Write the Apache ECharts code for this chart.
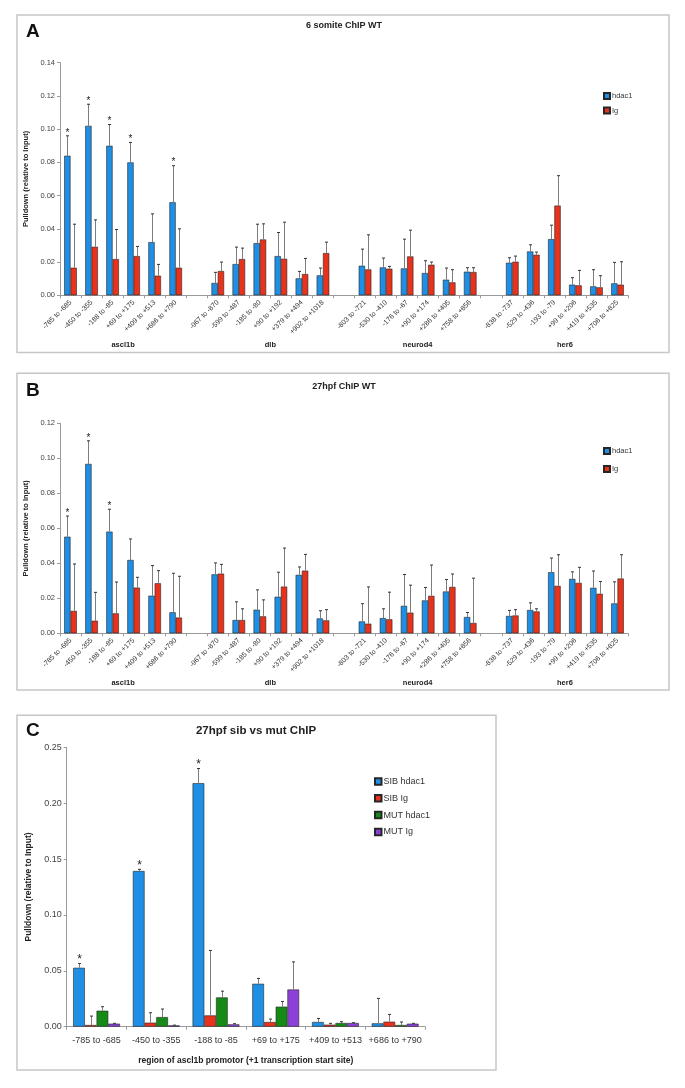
<!DOCTYPE html>
<html>
<head>
<meta charset="utf-8">
<script src="https://cdn.jsdelivr.net/npm/echarts@6/dist/echarts.min.js"></script>
<style>
  html, body { margin: 0; padding: 0; background: #fff; }
  #main { width: 685px; height: 1088px; }
</style>
</head>
<body>
<div id="main"></div>
<script>
// panels A and B: 4 genes x 6 promoter regions
var genes = ['ascl1b', 'dlb', 'neurod4', 'her6'];
var regions = [
  ['-785 to -685', '-450 to -355', '-188 to -85', '+69 to +175', '+409 to +513', '+686 to +790'],
  ['-967 to -870', '-599 to -487', '-185 to -80', '+90 to +192', '+379 to +494', '+902 to +1018'],
  ['-803 to -721', '-530 to -410', '-176 to -67', '+90 to +174', '+286 to +405', '+758 to +856'],
  ['-838 to -737', '-529 to -436', '-193 to -79', '+99 to +206', '+419 to +535', '+706 to +825']
];

// A: 6 somite
var aHdac1    = [0.084, 0.102, 0.090, 0.080, 0.032, 0.056,  0.0074, 0.0188, 0.0314, 0.0236, 0.0102, 0.012,  0.0178, 0.0168, 0.0162, 0.0134, 0.0094, 0.0142,  0.0196, 0.0264, 0.0338, 0.0064, 0.0054, 0.0072];
var aHdac1Err = [0.012, 0.013, 0.0128, 0.012, 0.017, 0.022,  0.0064, 0.0102, 0.0114, 0.0142, 0.0042, 0.0044,  0.010, 0.0056, 0.0176, 0.0074, 0.007, 0.0024,  0.003, 0.004, 0.0084, 0.0042, 0.010, 0.0126];
var aIg       = [0.0166, 0.0292, 0.0218, 0.0236, 0.0118, 0.0166,  0.0146, 0.0218, 0.0336, 0.022, 0.0128, 0.0254,  0.0156, 0.016, 0.0234, 0.0184, 0.0078, 0.014,  0.0202, 0.0244, 0.054, 0.006, 0.0048, 0.0064];
var aIgErr    = [0.0262, 0.0162, 0.0178, 0.0058, 0.0068, 0.0234,  0.0054, 0.0066, 0.0094, 0.022, 0.0094, 0.0066,  0.0208, 0.0014, 0.0158, 0.0016, 0.0076, 0.0026,  0.0034, 0.0016, 0.018, 0.009, 0.007, 0.0138];
var aStar     = [1, 1, 1, 1, 0, 1,  0, 0, 0, 0, 0, 0,  0, 0, 0, 0, 0, 0,  0, 0, 0, 0, 0, 0];

// B: 27hpf
var bHdac1    = [0.0552, 0.0968, 0.0581, 0.0419, 0.0215, 0.012,  0.0337, 0.0076, 0.0135, 0.0209, 0.0334, 0.0085,  0.0068, 0.0087, 0.0157, 0.0188, 0.0239, 0.0093,  0.0099, 0.0133, 0.0349, 0.0311, 0.026, 0.0171];
var bHdac1Err = [0.0118, 0.0132, 0.0128, 0.012, 0.0172, 0.0223,  0.0065, 0.0104, 0.0113, 0.014, 0.0045, 0.0044,  0.0101, 0.0053, 0.0179, 0.0074, 0.0068, 0.0026,  0.0032, 0.0041, 0.0081, 0.004, 0.0096, 0.0123];
var bIg       = [0.0128, 0.0072, 0.0114, 0.0261, 0.0286, 0.009,  0.0341, 0.0076, 0.0097, 0.0267, 0.0358, 0.0074,  0.0055, 0.008, 0.0118, 0.0214, 0.0265, 0.0059,  0.0102, 0.0125, 0.0271, 0.0288, 0.0226, 0.0313];
var bIgErr    = [0.0268, 0.0162, 0.0179, 0.0059, 0.0072, 0.0236,  0.0053, 0.0064, 0.0094, 0.022, 0.0093, 0.0061,  0.021, 0.0155, 0.0157, 0.0176, 0.0074, 0.0256,  0.0033, 0.0015, 0.0178, 0.0089, 0.007, 0.0136];
var bStar     = [1, 1, 1, 0, 0, 0,  0, 0, 0, 0, 0, 0,  0, 0, 0, 0, 0, 0,  0, 0, 0, 0, 0, 0];

// C: sib vs mut, ascl1b only
var cRegions     = ['-785 to -685', '-450 to -355', '-188 to -85', '+69 to +175', '+409 to +513', '+686 to +790'];
var cSibHdac1    = [0.0527, 0.1393, 0.2179, 0.0384, 0.0042, 0.003];
var cSibHdac1Err = [0.0038, 0.0015, 0.0131, 0.0048, 0.0032, 0.0223];
var cSibIg       = [0.0015, 0.0036, 0.0101, 0.0042, 0.0018, 0.0045];
var cSibIgErr    = [0.008, 0.0089, 0.0581, 0.0026, 0.0012, 0.0065];
var cMutHdac1    = [0.0143, 0.0086, 0.0262, 0.0179, 0.0033, 0.0015];
var cMutHdac1Err = [0.0036, 0.0072, 0.0056, 0.0047, 0.0012, 0.0027];
var cMutIg       = [0.0027, 0.0012, 0.0021, 0.0333, 0.0033, 0.0027];
var cMutIgErr    = [0.0003, 0.0002, 0.0006, 0.0247, 0.0003, 0.0003];
var cStar        = [1, 1, 1, 0, 0, 0];

var yTicksA = { max: 0.14, interval: 0.02 };
var yTicksB = { max: 0.12, interval: 0.02 };
var yTicksC = { max: 0.25, interval: 0.05 };

var FONT = "'Liberation Sans', Arial, sans-serif";
var BLUE = '#1e8fe4', RED = '#e8321c', GREEN = '#168a16', PURPLE = '#8c40d8';

// gene groups sit in slots of 7 (6 regions + 1 empty)
function slotOf(i) { return i + Math.floor(i / 6); }
var catsAB = [];
genes.forEach(function (g, gi) {
  regions[gi].forEach(function (r) { catsAB.push(r); });
  if (gi < genes.length - 1) catsAB.push('');
});
function spread(vals) {
  var out = catsAB.map(function () { return null; });
  vals.forEach(function (v, i) { out[slotOf(i)] = v; });
  return out;
}

function errSeries(xi, yi, vals, errs, stars, k, n, frac, slotFn, starSize) {
  var data = vals.map(function (v, i) {
    return [slotFn(i), v, v + errs[i], stars ? stars[i] : 0];
  });
  return {
    type: 'custom', xAxisIndex: xi, yAxisIndex: yi, silent: true, z: 5,
    renderItem: function (params, api) {
      var band = api.size([1, 0])[0];
      var off = (k - (n - 1) / 2) * band * frac;
      var base = api.coord([api.value(0), api.value(1)]);
      var top = api.coord([api.value(0), api.value(2)]);
      var x = Math.round(base[0] + off) + 0.5;
      var kids = [
        { type: 'line', shape: { x1: x, y1: base[1], x2: x, y2: top[1] }, style: { stroke: '#7d7d7d', lineWidth: 1 } },
        { type: 'line', shape: { x1: x - 1.5, y1: top[1], x2: x + 1.5, y2: top[1] }, style: { stroke: '#333', lineWidth: 1 } }
      ];
      if (api.value(3)) {
        kids.push({ type: 'text', style: { text: '*', x: x, y: top[1] + 2, align: 'center', verticalAlign: 'bottom',
          font: starSize + 'px ' + FONT, fill: '#222' } });
      }
      return { type: 'group', children: kids };
    },
    data: data
  };
}

function barSeries(name, xi, yi, data, color, width) {
  return {
    type: 'bar', name: name, xAxisIndex: xi, yAxisIndex: yi, data: data,
    barWidth: width, barGap: '0%',
    itemStyle: { color: color, borderColor: '#262626', borderWidth: 0.6 }
  };
}

function catAxis(grid, cats, fontSize, rotate, margin) {
  return {
    type: 'category', gridIndex: grid, data: cats,
    axisLine: { lineStyle: { color: '#9a9a9a' } },
    axisTick: { show: true, interval: 0, length: 3, lineStyle: { color: '#9a9a9a' } },
    axisLabel: { interval: 0, rotate: rotate, fontSize: fontSize, margin: margin, color: '#333', fontFamily: FONT }
  };
}
function groupAxis(grid, offset) {
  return {
    type: 'value', gridIndex: grid, position: 'bottom', offset: offset,
    min: 0, max: catsAB.length, interval: 1,
    axisLine: { show: false }, axisTick: { show: false }, splitLine: { show: false },
    axisLabel: {
      fontSize: 7.5, fontWeight: 'bold', color: '#222', fontFamily: FONT, margin: 0,
      formatter: function (v) {
        var g = (v - 3) / 7;
        return (g >= 0 && g < genes.length && g % 1 === 0) ? genes[g] : '';
      }
    }
  };
}
function valAxis(grid, ticks, fontSize, nameSize, nameGap) {
  return {
    type: 'value', gridIndex: grid, min: 0, max: ticks.max, interval: ticks.interval,
    name: 'Pulldown (relative to Input)', nameLocation: 'middle', nameGap: nameGap,
    nameTextStyle: { fontSize: nameSize, fontWeight: 'bold', color: '#222', fontFamily: FONT },
    axisLine: { show: true, lineStyle: { color: '#9a9a9a' } },
    axisTick: { show: true, length: 3, lineStyle: { color: '#9a9a9a' } },
    splitLine: { show: false },
    axisLabel: { fontSize: fontSize, color: '#444', fontFamily: FONT, margin: 5,
      formatter: function (v) { return v.toFixed(2); } }
  };
}

var cIdx = function (i) { return i; };

var option = {
  animation: false,
  backgroundColor: '#fff',
  graphic: [
    { type: 'rect', shape: { x: 17, y: 15, width: 652, height: 337.5 }, style: { fill: 'none', stroke: '#c6c6c6', lineWidth: 1.5 } },
    { type: 'rect', shape: { x: 17, y: 373.3, width: 652, height: 316.7 }, style: { fill: 'none', stroke: '#c6c6c6', lineWidth: 1.5 } },
    { type: 'rect', shape: { x: 17, y: 715.3, width: 479, height: 354.7 }, style: { fill: 'none', stroke: '#c6c6c6', lineWidth: 1.5 } },
    { type: 'text', style: { text: 'A', x: 26, y: 32, verticalAlign: 'middle', font: 'bold 19px ' + FONT, fill: '#111' } },
    { type: 'text', style: { text: 'B', x: 26, y: 391, verticalAlign: 'middle', font: 'bold 19px ' + FONT, fill: '#111' } },
    { type: 'text', style: { text: 'C', x: 26, y: 731, verticalAlign: 'middle', font: 'bold 19px ' + FONT, fill: '#111' } },
    { type: 'text', style: { text: '6 somite ChIP WT', x: 344, y: 26, align: 'center', verticalAlign: 'middle', font: 'bold 9px ' + FONT, fill: '#222' } },
    { type: 'text', style: { text: '27hpf ChIP WT', x: 344, y: 387, align: 'center', verticalAlign: 'middle', font: 'bold 9px ' + FONT, fill: '#222' } },
    { type: 'text', style: { text: '27hpf sib vs mut ChIP', x: 256, y: 731, align: 'center', verticalAlign: 'middle', font: 'bold 11.5px ' + FONT, fill: '#222' } }
  ],
  legend: [
    { data: ['hdac1', 'Ig'], orient: 'vertical', left: 598, top: 87, itemWidth: 6, itemHeight: 6, itemGap: 6.5,
      icon: 'rect', textStyle: { fontSize: 7.5, color: '#333', fontFamily: FONT, padding: [0, 0, 0, -3] }, selectedMode: false },
    { data: ['hdac1', 'Ig'], orient: 'vertical', left: 598, top: 442, itemWidth: 6, itemHeight: 6, itemGap: 10,
      icon: 'rect', textStyle: { fontSize: 7.5, color: '#333', fontFamily: FONT, padding: [0, 0, 0, -3] }, selectedMode: false },
    { data: ['SIB hdac1', 'SIB Ig', 'MUT hdac1', 'MUT Ig'], orient: 'vertical', left: 369, top: 772, itemWidth: 6.5, itemHeight: 6.5, itemGap: 7.8,
      icon: 'rect', textStyle: { fontSize: 9, color: '#333', fontFamily: FONT, padding: [0, 0, 0, -3] }, selectedMode: false }
  ],
  grid: [
    { left: 60, top: 62.7, width: 568, height: 232.6 },
    { left: 60, top: 423.3, width: 568, height: 210 },
    { left: 66.7, top: 747.3, width: 358.3, height: 279.4 }
  ],
  xAxis: [
    catAxis(0, catsAB, 7, 45, 6),
    groupAxis(0, 46),
    catAxis(1, catsAB, 7, 45, 6),
    groupAxis(1, 45.5),
    Object.assign(catAxis(2, cRegions, 9, 0, 9), {
      name: 'region of ascl1b promotor (+1 transcription start site)', nameLocation: 'middle', nameGap: 29,
      nameTextStyle: { fontSize: 8.5, fontWeight: 'bold', color: '#222', fontFamily: FONT }
    })
  ],
  yAxis: [
    valAxis(0, yTicksA, 7.5, 7.5, 27),
    valAxis(1, yTicksB, 7.5, 7.5, 27),
    valAxis(2, yTicksC, 9, 8.5, 32)
  ],
  series: [
    barSeries('hdac1', 0, 0, spread(aHdac1), BLUE, '30%'),
    barSeries('Ig', 0, 0, spread(aIg), RED, '30%'),
    errSeries(0, 0, aHdac1, aHdac1Err, aStar, 0, 2, 0.3, slotOf, 10),
    errSeries(0, 0, aIg, aIgErr, null, 1, 2, 0.3, slotOf, 10),

    barSeries('hdac1', 2, 1, spread(bHdac1), BLUE, '30%'),
    barSeries('Ig', 2, 1, spread(bIg), RED, '30%'),
    errSeries(2, 1, bHdac1, bHdac1Err, bStar, 0, 2, 0.3, slotOf, 10),
    errSeries(2, 1, bIg, bIgErr, null, 1, 2, 0.3, slotOf, 10),

    barSeries('SIB hdac1', 4, 2, cSibHdac1, BLUE, '19.6%'),
    barSeries('SIB Ig', 4, 2, cSibIg, RED, '19.6%'),
    barSeries('MUT hdac1', 4, 2, cMutHdac1, GREEN, '19.6%'),
    barSeries('MUT Ig', 4, 2, cMutIg, PURPLE, '19.6%'),
    errSeries(4, 2, cSibHdac1, cSibHdac1Err, cStar, 0, 4, 0.196, cIdx, 12),
    errSeries(4, 2, cSibIg, cSibIgErr, null, 1, 4, 0.196, cIdx, 12),
    errSeries(4, 2, cMutHdac1, cMutHdac1Err, null, 2, 4, 0.196, cIdx, 12),
    errSeries(4, 2, cMutIg, cMutIgErr, null, 3, 4, 0.196, cIdx, 12)
  ]
};

var chart = echarts.init(document.getElementById('main'));
chart.setOption(option);
</script>
</body>
</html>
